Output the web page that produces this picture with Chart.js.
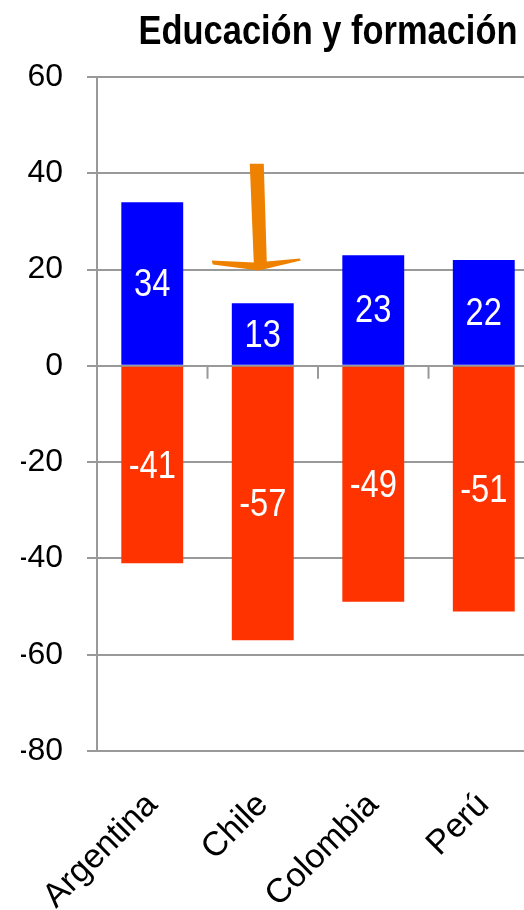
<!DOCTYPE html>
<html lang="es">
<head>
  <meta charset="UTF-8" />
  <title>Educación y formación</title>
  <script src="https://cdn.jsdelivr.net/npm/chart.js"></script>
  <style>
    html, body { margin: 0; padding: 0; background: #fff; overflow: hidden; }
    #wrap { width: 547px; height: 910px; }
  </style>
</head>
<body>
  <div id="wrap">
    <canvas id="chart" width="547" height="910"></canvas>
  </div>

  <script>
    // data
    const countries = ['Argentina', 'Chile', 'Colombia', 'Perú'];
    const positives = [34, 13, 23, 22];
    const negatives = [-41, -57, -49, -51];
    const yTicks = [-80, -60, -40, -20, 0, 20, 40, 60];
    const titleText = 'Educación y formación';

    const FONT = '"Liberation Sans", Arial, sans-serif';
    const GRID = '#999999';

    // condensed text helper (no narrow font installed)
    function narrowText(ctx, text, x, y, squeeze) {
      ctx.save();
      ctx.translate(x, y);
      ctx.scale(squeeze, 1);
      ctx.fillText(text, 0, 0);
      ctx.restore();
    }

    // title, sitting over the plot a bit to the right
    const titleDraw = {
      id: 'titleDraw',
      afterDraw(chart) {
        const ctx = chart.ctx;
        ctx.save();
        ctx.fillStyle = '#000';
        ctx.font = 'bold 41px ' + FONT;
        ctx.textAlign = 'center';
        ctx.textBaseline = 'alphabetic';
        narrowText(ctx, titleText, 328, 44, 0.84);
        ctx.restore();
      }
    };

    // white value labels in the middle of each bar piece
    const valueLabels = {
      id: 'valueLabels',
      afterDatasetsDraw(chart) {
        const ctx = chart.ctx;
        ctx.save();
        ctx.fillStyle = '#ffffff';
        ctx.font = '38px ' + FONT;
        ctx.textAlign = 'center';
        ctx.textBaseline = 'middle';
        chart.data.datasets.forEach((ds, i) => {
          chart.getDatasetMeta(i).data.forEach((bar, j) => {
            narrowText(ctx, String(ds.data[j]), bar.x, (bar.y + bar.base) / 2 + 2, 0.86);
          });
        });
        ctx.restore();
      }
    };

    // short ticks under the zero line between categories
    const zeroTicks = {
      id: 'zeroTicks',
      afterDatasetsDraw(chart) {
        const x = chart.scales.x, y = chart.scales.y, ctx = chart.ctx;
        const y0 = y.getPixelForValue(0);
        ctx.save();
        ctx.strokeStyle = GRID;
        ctx.lineWidth = 2;
        ctx.beginPath();
        for (let i = 0; i < countries.length - 1; i++) {
          const bx = (x.getPixelForValue(i) + x.getPixelForValue(i + 1)) / 2;
          ctx.moveTo(bx, y0);
          ctx.lineTo(bx, y0 + 13);
        }
        ctx.stroke();
        ctx.restore();
      }
    };

    // orange arrow pointing at Chile
    const arrow = {
      id: 'arrow',
      afterDraw(chart) {
        const x = chart.scales.x, y = chart.scales.y, ctx = chart.ctx;
        const cx = x.getPixelForValue(1);
        const top = y.getPixelForValue(42);
        const tip = y.getPixelForValue(20);
        ctx.save();
        ctx.fillStyle = '#EE8100';
        ctx.beginPath();
        ctx.moveTo(cx - 13, top);
        ctx.lineTo(cx + 1, top);
        ctx.lineTo(cx + 4, tip - 8);
        ctx.lineTo(cx + 37, tip - 11);
        ctx.lineTo(cx + 38, tip - 9);
        ctx.lineTo(cx - 4, tip + 1);
        ctx.lineTo(cx - 50, tip - 5);
        ctx.lineTo(cx - 51, tip - 9);
        ctx.lineTo(cx - 9, tip - 7);
        ctx.closePath();
        ctx.fill();
        ctx.restore();
      }
    };

    new Chart(document.getElementById('chart'), {
      type: 'bar',
      data: {
        labels: countries,
        datasets: [
          { data: positives, backgroundColor: '#0000FF', borderWidth: 0 },
          { data: negatives, backgroundColor: '#FF3300', borderWidth: 0 }
        ]
      },
      options: {
        responsive: false,
        animation: false,
        layout: { padding: { left: 21, right: 3, top: 77, bottom: 0 } },
        plugins: {
          legend: { display: false },
          tooltip: { enabled: false },
          title: { display: false }
        },
        datasets: {
          bar: { categoryPercentage: 1, barPercentage: 0.56 }
        },
        scales: {
          x: {
            stacked: true,
            grid: { display: false, drawTicks: false },
            border: { display: false },
            ticks: {
              color: '#000',
              font: { family: FONT, size: 34 },
              minRotation: 45,
              maxRotation: 45,
              padding: 34,
              labelOffset: 0
            },
            afterFit(scale) { scale.height = 159; }
          },
          y: {
            stacked: true,
            min: -80,
            max: 60,
            afterBuildTicks(scale) { scale.ticks = yTicks.map(v => ({ value: v })); },
            grid: { color: GRID, lineWidth: 2, tickLength: 10 },
            border: { color: GRID, width: 2 },
            ticks: {
              color: '#000',
              font: { family: FONT, size: 32 },
              padding: 24
            },
            afterFit(scale) { scale.width = 76; }
          }
        }
      },
      plugins: [valueLabels, zeroTicks, arrow, titleDraw]
    });
  </script>
</body>
</html>
